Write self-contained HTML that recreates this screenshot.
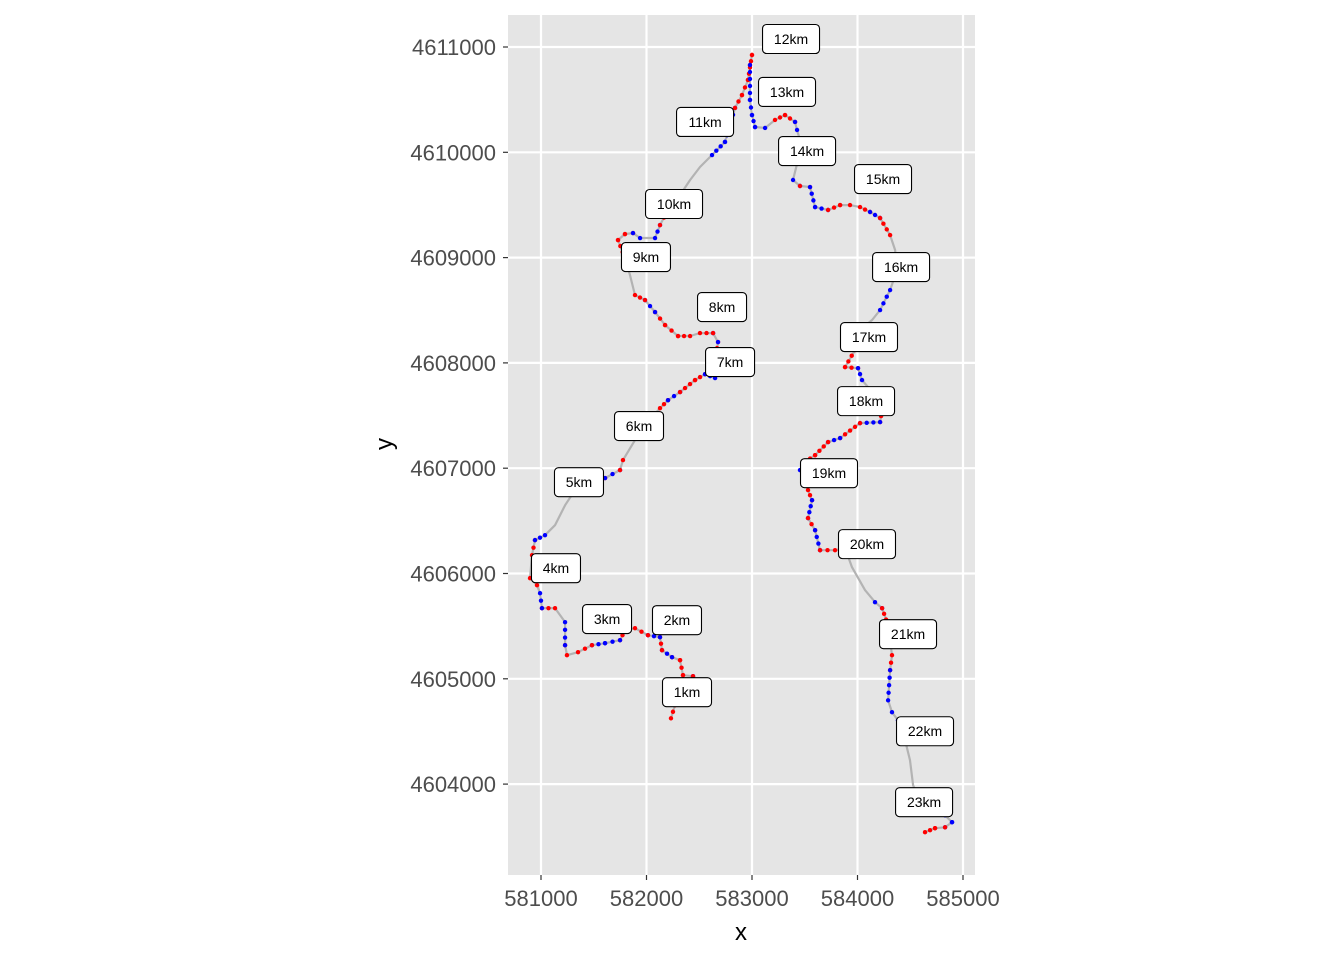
<!DOCTYPE html>
<html><head><meta charset="utf-8"><style>
body{margin:0;background:#fff;}
svg{display:block;font-family:"Liberation Sans",sans-serif;}
</style></head><body>
<svg id="chart" width="1344" height="960"></svg>
<script>
const routeX=[582232,582270,582365,582441,582346,582318,582242,582147,582128,582014,581891,581796,581749,581607,581483,581351,581246,581228,581228,581133,581009,580991,580962,580896,580915,580943,581038,581133,581228,581322,581465,581607,581749,581777,581891,581986,582128,582204,582318,582460,582555,582650,582650,582678,582631,582507,582413,582299,582176,582081,581986,581891,581844,581796,581730,581796,581872,581939,582081,582128,582204,582318,582413,582507,582621,582744,582839,582905,582962,583000,582981,582981,583000,583029,583124,583218,583313,583408,583427,583455,583436,583389,583455,583550,583598,583721,583835,583929,584024,584119,584214,584309,584356,584375,584309,584214,584138,584024,583977,583882,584005,584043,584166,584233,584214,584024,583835,583721,583598,583503,583455,583531,583569,583531,583598,583645,583787,583882,583948,584071,584166,584233,584290,584327,584309,584290,584327,584384,584451,584498,584527,584593,584688,584830,584896,584830,584735,584640];
const routeY=[4604625,4604749,4604891,4605025,4605034,4605177,4605205,4605272,4605395,4605414,4605481,4605462,4605367,4605338,4605319,4605253,4605224,4605319,4605538,4605671,4605671,4605813,4605889,4605956,4606174,4606317,4606364,4606459,4606649,4606792,4606906,4606906,4606982,4607077,4607267,4607410,4607570,4607646,4607723,4607837,4607893,4607856,4608027,4608198,4608283,4608283,4608255,4608255,4608359,4608483,4608597,4608644,4608834,4608996,4609167,4609224,4609233,4609186,4609186,4609309,4609452,4609594,4609737,4609860,4609974,4610098,4610421,4610544,4610687,4610924,4610829,4610497,4610354,4610240,4610231,4610307,4610354,4610288,4610212,4610117,4609927,4609737,4609680,4609670,4609480,4609452,4609499,4609499,4609480,4609433,4609376,4609214,4609072,4608882,4608692,4608502,4608407,4608312,4608122,4607960,4607950,4607837,4607694,4607552,4607438,4607428,4607286,4607248,4607124,4607058,4606982,4606792,4606696,4606526,4606411,4606221,4606221,4606240,4606060,4605842,4605728,4605671,4605509,4605224,4605082,4604796,4604683,4604606,4604416,4604226,4603989,4603847,4603752,4603704,4603638,4603590,4603581,4603543];
const segColors="r-brrrbrbr-rbbr-rb-rb-r-rb----rbr---rbrrb-rbr-rrrbr--rrrb-br----bbrrrrbbbb-rrb---brbbrr-rbr---b---rrb-rrbrbrrb-rbrbr----br-rb-bb---r-bbrrbr";
const kmLabels=["1km","2km","3km","4km","5km","6km","7km","8km","9km","10km","11km","12km","13km","14km","15km","16km","17km","18km","19km","20km","21km","22km","23km"];
const kmX=[582384,582289,581626,581142,581360,581929,582792,582716,581995,582261,582555,583370,583332,583522,584242,584413,584109,584081,583730,584090,584479,584640,584631];
const kmY=[4604873,4605557,4605567,4606050,4606867,4607400,4608008,4608530,4609005,4609509,4610288,4611076,4610573,4610012,4609746,4608910,4608245,4607637,4606953,4606279,4605424,4604502,4603828];
const xTicks=[581000,582000,583000,584000,585000];
const yTicks=[4604000,4605000,4606000,4607000,4608000,4609000,4610000,4611000];

const NS="http://www.w3.org/2000/svg";
const svg=document.getElementById('chart');
const P={l:508,r:975,t:15,b:875};
const sx=v=>541+(v-581000)*0.1055;
const sy=v=>47+(4611000-v)*0.1053;
function mk(tag,attrs,parent){const e=document.createElementNS(NS,tag);for(const k in attrs)e.setAttribute(k,attrs[k]);(parent||svg).appendChild(e);return e;}

const panel=mk('rect',{x:P.l,y:P.t,width:P.r-P.l,height:P.b-P.t,fill:'#e5e5e5'});


const grid=mk('g',{});


xTicks.forEach(v=>{mk('line',{x1:sx(v),x2:sx(v),y1:P.t,y2:P.b,stroke:'#fff','stroke-width':2.2},grid);});
yTicks.forEach(v=>{mk('line',{y1:sy(v),y2:sy(v),x1:P.l,x2:P.r,stroke:'#fff','stroke-width':2.2},grid);});

const xAxis=mk('g',{});


xTicks.forEach(v=>{
  mk('line',{x1:sx(v),x2:sx(v),y1:P.b,y2:P.b+5,stroke:'#333','stroke-width':1.2},xAxis);
  const t=mk('text',{x:sx(v),y:P.b+31,'text-anchor':'middle','font-size':22,fill:'#4d4d4d'},xAxis);
  t.textContent=v;
  
  
});
const yAxis=mk('g',{});


yTicks.forEach(v=>{
  mk('line',{x1:P.l-5,x2:P.l,y1:sy(v),y2:sy(v),stroke:'#333','stroke-width':1.2},yAxis);
  const t=mk('text',{x:P.l-12,y:sy(v)+8,'text-anchor':'end','font-size':22,fill:'#4d4d4d'},yAxis);
  t.textContent=v;
  
  
});
const xt=mk('text',{x:741,y:940,'text-anchor':'middle','font-size':24,fill:'#000'});
xt.textContent='x';


const yt=mk('text',{x:392,y:444,'text-anchor':'middle','font-size':24,fill:'#000',transform:'rotate(-90 392 444)'});
yt.textContent='y';



let d='';
routeX.forEach((x,i)=>{d+=(i?'L':'M')+sx(x).toFixed(1)+','+sy(routeY[i]).toFixed(1);});
const route=mk('path',{d:d,fill:'none',stroke:'#b3b3b3','stroke-width':2.2,'stroke-linejoin':'round'});



const dots=mk('g',{});


for(let i=0;i<routeX.length-1;i++){
  const c=segColors[i];
  if(!c||c==='-')continue;
  const col=c==='r'?'#ff0000':'#0000ff';
  const x1=sx(routeX[i]),y1=sy(routeY[i]),x2=sx(routeX[i+1]),y2=sy(routeY[i+1]);
  const n=Math.max(1,Math.round(Math.hypot(x2-x1,y2-y1)/7));
  for(let k=0;k<=n;k++){
    const dot=mk('circle',{cx:x1+(x2-x1)*k/n,cy:y1+(y2-y1)*k/n,r:2.2,fill:col},dots);
    
    
  }
}

kmLabels.forEach((lab,i)=>{
  const g=mk('g',{});
  
  
  const w=lab.length>3?57:49, h=29;
  const cx=sx(kmX[i]),cy=sy(kmY[i]);
  mk('rect',{x:cx-w/2,y:cy-h/2,width:w,height:h,rx:4,fill:'#fff',stroke:'#000','stroke-width':1.1},g);
  const t=mk('text',{x:cx,y:cy+5,'text-anchor':'middle','font-size':14,fill:'#000'},g);
  t.textContent=lab;
});
</script>
</body></html>
